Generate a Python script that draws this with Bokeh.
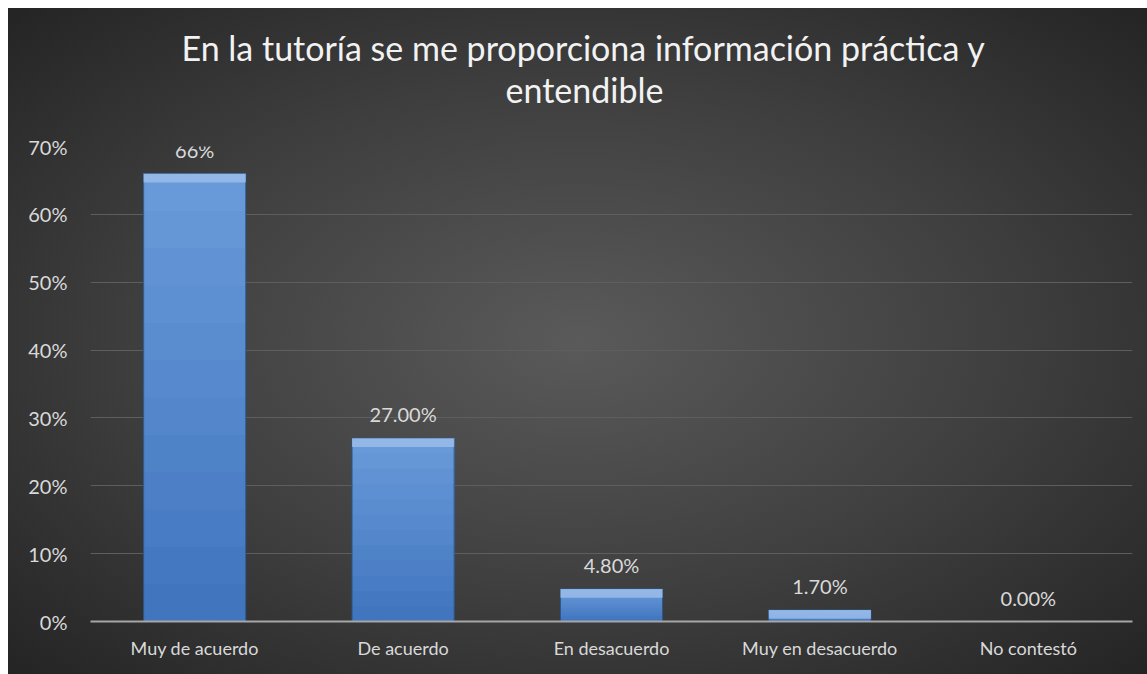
from bokeh.plotting import figure
from bokeh.models import ColumnDataSource, FactorRange, NumeralTickFormatter, Range1d, Title
from bokeh.core.properties import value
from bokeh.embed import file_html
from bokeh.resources import INLINE

categories = ["Muy de acuerdo", "De acuerdo", "En desacuerdo", "Muy en desacuerdo", "No contestó"]
values = [0.66, 0.27, 0.048, 0.017, 0.0]
labels = ["66%", "27.00%", "4.80%", "1.70%", "0.00%"]
title_lines = ["En la tutoría se me proporciona información práctica y", "entendible"]

BAR_W = 0.49
bevel = 0.013
src = ColumnDataSource(dict(
    cat=categories,
    val=values,
    lab=labels,
    bev_bottom=[max(v - bevel, 0) for v in values],
))

p = figure(
    x_range=FactorRange(*categories, range_padding=0),
    y_range=Range1d(0, 0.70),
    width=1139, height=666,
    output_backend="svg", toolbar_location=None,
    min_border_left=82, min_border_right=15, min_border_top=10, min_border_bottom=53,
)
p.styles = {
    "margin-left": "8px", "margin-top": "8px",
    "background": "radial-gradient(ellipse at 50% 50%, #5a5a5a 0%, #3e3e3e 55%, #242424 100%)",
}
p.border_fill_alpha = 0
p.background_fill_alpha = 0
p.outline_line_color = None

# spacer between title and plot frame (added first -> closest to frame)
p.add_layout(Title(text=" ", text_font_size="1px", standoff=52), "above")
# title: two lines (later added goes on top)
title_offsets = [415, 91]      # line 2, line 1 (pixels from frame left)
title_standoffs = [-36, 33]
for line, off, so in zip(reversed(title_lines), title_offsets, title_standoffs):
    t = Title(text=line, align="left", offset=off,
              text_font="Lato", text_font_size="34px", text_font_style="normal",
              text_color="#f2f2f2", standoff=so)
    p.add_layout(t, "above")

# bars: body with a vertical shading (overlapping layers, each from a fraction
# of the bar's height up to its top, so no seams show)
def mix(c1, c2, t):
    a = [int(c1[i:i + 2], 16) for i in (1, 3, 5)]
    b = [int(c2[i:i + 2], 16) for i in (1, 3, 5)]
    return "#" + "".join(f"{round(x + (y - x) * t):02x}" for x, y in zip(a, b))

n_bands = 12
bottom_col, top_col = "#3f74be", "#6a9bda"
for k in range(n_bands):
    lo = [v * k / n_bands for v in values]
    p.vbar(x=categories, bottom=lo, top=values, width=BAR_W,
           fill_color=mix(bottom_col, top_col, (k + 0.5) / n_bands), line_color=None)

# outline + top bevel
p.vbar(x="cat", top="val", width=BAR_W, source=src,
       fill_color=None, line_color="#2c5687", line_width=1)
p.vbar(x="cat", top="val", bottom="bev_bottom", width=BAR_W, source=src,
       fill_color="#9bbde9", line_color=None, fill_alpha=0.85)

p.text(x="cat", y="val", text="lab", source=src,
       text_align="center", text_baseline="bottom", y_offset=-12,
       text_font=value("Lato"), text_font_size="20px", text_color="#d9d9d9")

p.yaxis.formatter = NumeralTickFormatter(format="0%")
p.yaxis.ticker = [0, 0.1, 0.2, 0.3, 0.4, 0.5, 0.6, 0.7]
p.yaxis.axis_line_color = None
p.yaxis.major_tick_line_color = None
p.yaxis.major_tick_out = 0
p.yaxis.minor_tick_line_color = None
p.yaxis.minor_tick_out = 0
p.yaxis.major_label_text_color = "#d9d9d9"
p.yaxis.major_label_text_font = "Lato"
p.yaxis.major_label_text_font_size = "20px"
p.yaxis.major_label_standoff = 23

p.xaxis.axis_line_color = "#a6a6a6"
p.xaxis.axis_line_width = 2
p.xaxis.major_tick_line_color = None
p.xaxis.major_tick_out = 0
p.xaxis.minor_tick_line_color = None
p.xaxis.minor_tick_out = 0
p.xaxis.major_label_text_color = "#d9d9d9"
p.xaxis.major_label_text_font = "Lato"
p.xaxis.major_label_text_font_size = "18px"
p.xaxis.major_label_standoff = 15

p.xgrid.grid_line_color = None
p.ygrid.grid_line_color = "#5e5e5e"
p.ygrid.grid_line_width = 1

open("out.html", "w").write(file_html(p, INLINE))
